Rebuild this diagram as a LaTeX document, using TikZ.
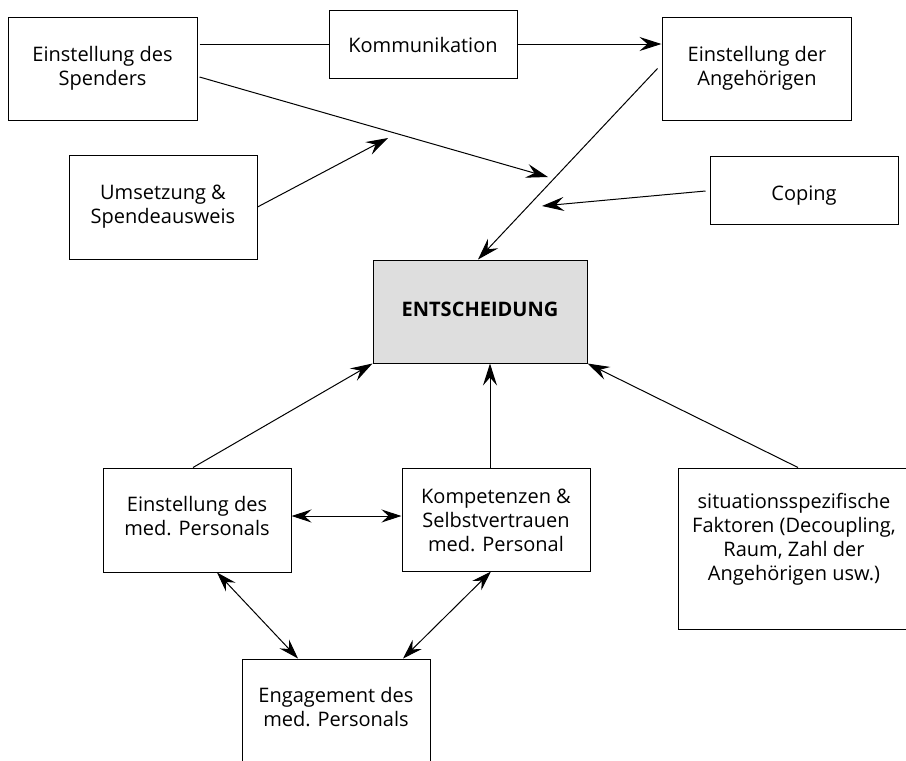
\documentclass[tikz,border=0pt]{standalone}
\usepackage{fontspec}
\setmainfont{Open Sans}
\usetikzlibrary{arrows.meta,fit}
\definecolor{entgray}{HTML}{DEDEDE}
\begin{document}
\begin{tikzpicture}[x=0.5pt,y=-0.5pt,
  box/.style={draw=black, line width=0.5pt, inner sep=0pt, rectangle},
  txt/.style={align=center, font=\fontsize{10}{12}\selectfont, inner sep=0pt, anchor=base},
  conn/.style={line width=0.5pt},
  tip/.style={},
  arr/.style={conn, -{Stealth[length=11pt,width=7pt,inset=4pt]}},
  darr/.style={conn, {Stealth[length=10pt,width=6.5pt,inset=3.5pt]}-{Stealth[length=10pt,width=6.5pt,inset=3.5pt]}}]
\useasboundingbox (0,0) rectangle (906,761);
% boxes
\node[box, fit={(8,17)(197,120)}] (spender) {};
\node[box, fit={(329,10)(517,78)}] (komm) {};
\node[box, fit={(662,17)(851,120)}] (ang) {};
\node[box, fit={(69,155)(257,259)}] (ums) {};
\node[box, fit={(710,156)(898,224)}] (coping) {};
\node[box, fill=entgray, fit={(373,260)(587,363)}] (ent) {};
\node[box, fit={(103,468)(291,572)}] (einst) {};
\node[box, fit={(402,468)(590,571)}] (komp) {};
\node[box, fit={(678,468)(912,629)}] (sit) {};
\node[box, fit={(242,659)(430,763)}] (eng) {};
% texts (anchor base = baseline of last line)
\node[txt] (tspender) at (102.5,85) {Einstellung des\\Spenders};
\node[txt] (tkomm) at (423,52.5) {Kommunikation};
\node[txt] (tang) at (757,85) {Einstellung der\\Angehörigen};
\node[txt] (tums) at (163,223) {Umsetzung \&\\Spendeausweis};
\node[txt] (tcoping) at (804,200) {Coping};
\node[txt, font=\fontsize{10}{12}\selectfont\bfseries] (tent) at (480,316.5) {ENTSCHEIDUNG};
\node[txt] (teinst) at (197,535) {Einstellung des\\med. Personals};
\node[txt] (tkomp) at (496,551) {Kompetenzen \&\\Selbstvertrauen\\med. Personal};
\node[txt] (tsit) at (794,580) {situationsspezifische\\Faktoren (Decoupling,\\Raum, Zahl der\\Angehörigen usw.)};
\node[txt] (teng) at (336,726) {Engagement des\\med. Personals};
% free ends
\coordinate (p1) at (548,177);
\coordinate (p2) at (388,138);
\coordinate (p4) at (542,206);
% connectors
\draw[conn] ([xshift=1pt]spender.east |- komm.west) -- (komm.west);
\draw[arr] (komm.east) -- (komm.east -| ang.west);
\draw[arr] ([xshift=1pt,yshift=-4.25pt]spender.east) -- (p1);
\draw[arr] (ums.east) -- (p2);
\draw[arr] ([xshift=-2pt]ang.west) -- ([xshift=-1pt]ent.north);
\draw[arr] ([xshift=-2pt,yshift=-0.5pt]coping.west) -- (p4);
\draw[arr] ([xshift=-2pt]einst.north) -- (ent.south west);
\draw[arr] ([xshift=-3pt]komp.north) -- ([xshift=-3pt]komp.north |- ent.south);
\draw[arr] ([xshift=1.5pt]sit.north) -- (ent.south east);
\draw[darr] ([yshift=2pt]einst.east) -- ([yshift=2pt]einst.east -| komp.west);
\draw[darr] ([xshift=10pt]einst.south) -- ([xshift=-19pt]eng.north);
\draw[darr] ([xshift=-2.5pt]komp.south) -- ([xshift=33.5pt]eng.north);
\end{tikzpicture}
\end{document}
